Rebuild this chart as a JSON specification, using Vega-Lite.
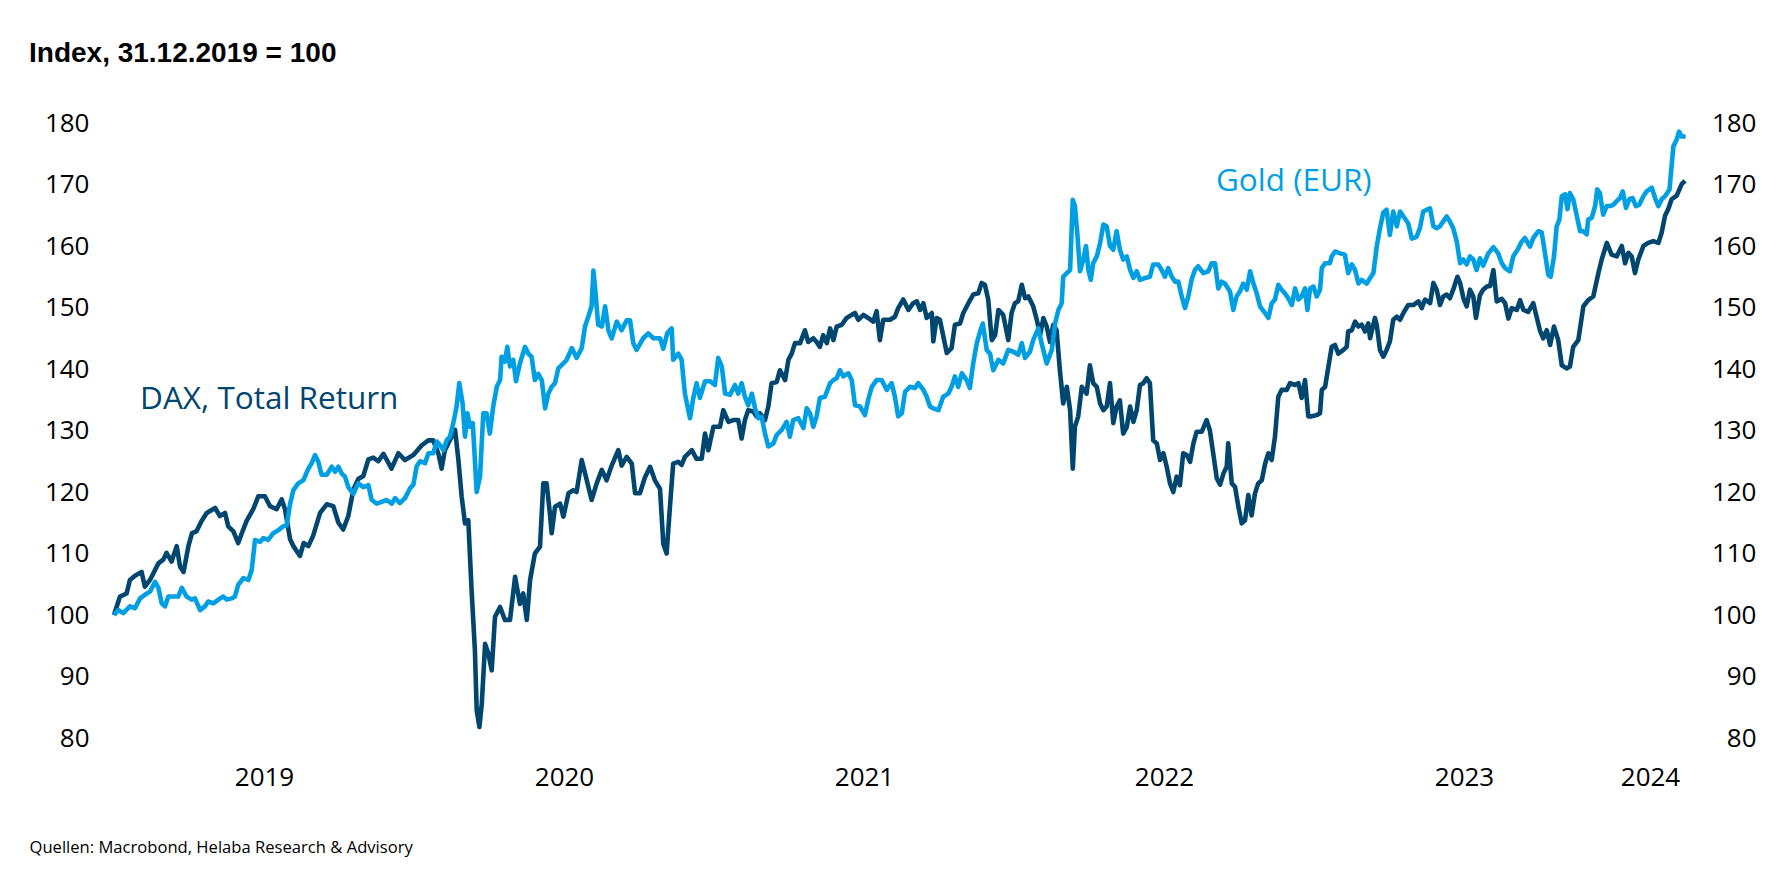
{
"$schema":"https://vega.github.io/schema/vega-lite/v6.json",
"width":1572,"height":615,
"autosize":{"type":"none"},
"padding":{"left":114,"top":123,"right":96,"bottom":131},
"background":"white",
"config":{"view":{"stroke":null},"font":"Open Sans"},
"title":{"text":"Index, 31.12.2019 = 100","anchor":"start","frame":"group","dx":-85,"offset":42,"font":"Liberation Sans","fontWeight":"bold","fontSize":28,"color":"#000000"},
"datasets":{
"dax":[
{"t":2019.000,"v":100},{"t":2019.020,"v":103},{"t":2019.042,"v":103.5},{"t":2019.053,"v":105.7},{"t":2019.070,"v":106.4},{"t":2019.092,"v":107},{"t":2019.103,"v":104.6},{"t":2019.120,"v":105.7},{"t":2019.148,"v":108.4},{"t":2019.164,"v":109},{"t":2019.175,"v":110.1},{"t":2019.192,"v":108.7},{"t":2019.209,"v":111.2},{"t":2019.220,"v":107.9},{"t":2019.232,"v":107},{"t":2019.248,"v":111.2},{"t":2019.260,"v":113.3},{"t":2019.275,"v":113.6},{"t":2019.292,"v":115.3},{"t":2019.309,"v":116.6},{"t":2019.337,"v":117.4},{"t":2019.353,"v":116.1},{"t":2019.370,"v":116.6},{"t":2019.381,"v":114.4},{"t":2019.398,"v":113.6},{"t":2019.414,"v":111.7},{"t":2019.426,"v":113.3},{"t":2019.442,"v":115.3},{"t":2019.464,"v":117.2},{"t":2019.481,"v":119.3},{"t":2019.503,"v":119.3},{"t":2019.520,"v":117.7},{"t":2019.542,"v":117.2},{"t":2019.559,"v":118.8},{"t":2019.570,"v":117.2},{"t":2019.587,"v":112.3},{"t":2019.598,"v":111.2},{"t":2019.620,"v":109.6},{"t":2019.632,"v":111.7},{"t":2019.648,"v":111.2},{"t":2019.664,"v":112.9},{"t":2019.687,"v":116.6},{"t":2019.709,"v":118},{"t":2019.731,"v":117.7},{"t":2019.748,"v":115},{"t":2019.764,"v":113.9},{"t":2019.781,"v":116.1},{"t":2019.798,"v":120.4},{"t":2019.814,"v":122.1},{"t":2019.831,"v":122.6},{"t":2019.848,"v":125.3},{"t":2019.864,"v":125.6},{"t":2019.881,"v":125},{"t":2019.898,"v":126.2},{"t":2019.914,"v":124.8},{"t":2019.925,"v":123.8},{"t":2019.948,"v":126.3},{"t":2019.970,"v":125.2},{"t":2019.998,"v":126},
{"t":2020.026,"v":127.6},{"t":2020.048,"v":128.4},{"t":2020.064,"v":128.4},{"t":2020.081,"v":126.3},{"t":2020.092,"v":123.8},{"t":2020.103,"v":126.8},{"t":2020.114,"v":127.9},{"t":2020.126,"v":129},{"t":2020.137,"v":130.1},{"t":2020.148,"v":125.2},{"t":2020.159,"v":119.2},{"t":2020.170,"v":114.9},{"t":2020.181,"v":115.4},{"t":2020.192,"v":104},{"t":2020.203,"v":94.3},{"t":2020.209,"v":84.5},{"t":2020.218,"v":81.8},{"t":2020.226,"v":85.6},{"t":2020.237,"v":95.3},{"t":2020.248,"v":93.7},{"t":2020.259,"v":91},{"t":2020.270,"v":99.7},{"t":2020.287,"v":101.3},{"t":2020.303,"v":99.2},{"t":2020.320,"v":99.2},{"t":2020.337,"v":106.2},{"t":2020.353,"v":101.8},{"t":2020.364,"v":103.5},{"t":2020.376,"v":99.2},{"t":2020.387,"v":105.7},{"t":2020.403,"v":110},{"t":2020.420,"v":111.1},{"t":2020.431,"v":121.4},{"t":2020.442,"v":121.4},{"t":2020.453,"v":116.5},{"t":2020.459,"v":113.3},{"t":2020.470,"v":117.6},{"t":2020.487,"v":118.1},{"t":2020.498,"v":116},{"t":2020.515,"v":119.8},{"t":2020.531,"v":120.3},{"t":2020.542,"v":120},{"t":2020.559,"v":125.2},{"t":2020.576,"v":121.9},{"t":2020.592,"v":118.7},{"t":2020.609,"v":121.4},{"t":2020.626,"v":123.6},{"t":2020.642,"v":121.9},{"t":2020.659,"v":124.3},{"t":2020.681,"v":126.8},{"t":2020.692,"v":124.3},{"t":2020.709,"v":125.7},{"t":2020.726,"v":124.6},{"t":2020.737,"v":119.8},{"t":2020.753,"v":119.8},{"t":2020.770,"v":122.4},{"t":2020.787,"v":124.1},{"t":2020.803,"v":121.9},{"t":2020.820,"v":120.5},{"t":2020.831,"v":111.6},{"t":2020.842,"v":110},{"t":2020.853,"v":117.5},{"t":2020.864,"v":124.6},{"t":2020.881,"v":124.9},{"t":2020.892,"v":124.4},{"t":2020.903,"v":125.7},{"t":2020.926,"v":126.8},{"t":2020.942,"v":125.4},{"t":2020.959,"v":125.4},{"t":2020.970,"v":129.5},{"t":2020.981,"v":126.8},{"t":2020.998,"v":130.6},
{"t":2021.020,"v":130.6},{"t":2021.031,"v":133.3},{"t":2021.048,"v":131.4},{"t":2021.064,"v":131.7},{"t":2021.081,"v":131.7},{"t":2021.092,"v":128.7},{"t":2021.103,"v":131.7},{"t":2021.114,"v":133.3},{"t":2021.131,"v":133.1},{"t":2021.142,"v":132.3},{"t":2021.153,"v":132.8},{"t":2021.170,"v":131.7},{"t":2021.181,"v":133.9},{"t":2021.192,"v":137.7},{"t":2021.209,"v":137.9},{"t":2021.220,"v":139.8},{"t":2021.237,"v":138.2},{"t":2021.248,"v":141.5},{"t":2021.259,"v":142.5},{"t":2021.270,"v":144.2},{"t":2021.287,"v":144.2},{"t":2021.303,"v":146.3},{"t":2021.314,"v":144.4},{"t":2021.331,"v":145},{"t":2021.342,"v":144.4},{"t":2021.353,"v":143.6},{"t":2021.364,"v":145.5},{"t":2021.376,"v":144.2},{"t":2021.387,"v":146.6},{"t":2021.398,"v":144.7},{"t":2021.409,"v":146.9},{"t":2021.426,"v":147.2},{"t":2021.442,"v":148.3},{"t":2021.459,"v":148.8},{"t":2021.470,"v":149.1},{"t":2021.481,"v":148},{"t":2021.498,"v":148.8},{"t":2021.514,"v":148.3},{"t":2021.531,"v":147.7},{"t":2021.542,"v":149.4},{"t":2021.553,"v":144.7},{"t":2021.564,"v":148},{"t":2021.587,"v":148},{"t":2021.603,"v":148.5},{"t":2021.614,"v":149.9},{"t":2021.631,"v":151.3},{"t":2021.648,"v":149.6},{"t":2021.664,"v":150.7},{"t":2021.676,"v":151},{"t":2021.687,"v":149.6},{"t":2021.698,"v":150.7},{"t":2021.709,"v":148.3},{"t":2021.726,"v":149.1},{"t":2021.731,"v":144.5},{"t":2021.742,"v":148.3},{"t":2021.753,"v":148},{"t":2021.764,"v":145.4},{"t":2021.776,"v":142.6},{"t":2021.792,"v":143.4},{"t":2021.803,"v":147.2},{"t":2021.820,"v":147.4},{"t":2021.831,"v":149.1},{"t":2021.848,"v":150.7},{"t":2021.864,"v":152.1},{"t":2021.881,"v":152.3},{"t":2021.892,"v":154},{"t":2021.903,"v":153.7},{"t":2021.914,"v":151.3},{"t":2021.926,"v":144.7},{"t":2021.937,"v":145.5},{"t":2021.948,"v":149.6},{"t":2021.964,"v":148.8},{"t":2021.981,"v":144.7},{"t":2021.992,"v":149.1},
{"t":2022.003,"v":150.7},{"t":2022.014,"v":151},{"t":2022.026,"v":153.7},{"t":2022.037,"v":151.5},{"t":2022.048,"v":151.8},{"t":2022.064,"v":150.2},{"t":2022.076,"v":148},{"t":2022.087,"v":145.5},{"t":2022.098,"v":148.3},{"t":2022.109,"v":146.9},{"t":2022.120,"v":144.4},{"t":2022.131,"v":147.2},{"t":2022.142,"v":146.3},{"t":2022.153,"v":139.8},{"t":2022.164,"v":134.4},{"t":2022.176,"v":137.1},{"t":2022.187,"v":133.3},{"t":2022.196,"v":123.8},{"t":2022.203,"v":130.6},{"t":2022.214,"v":132.3},{"t":2022.226,"v":137.1},{"t":2022.242,"v":136},{"t":2022.253,"v":140.6},{"t":2022.264,"v":137.7},{"t":2022.276,"v":137.1},{"t":2022.287,"v":134.4},{"t":2022.298,"v":133.3},{"t":2022.309,"v":133.9},{"t":2022.320,"v":137.7},{"t":2022.331,"v":131.2},{"t":2022.342,"v":133.9},{"t":2022.353,"v":134.9},{"t":2022.364,"v":129.5},{"t":2022.376,"v":130.6},{"t":2022.387,"v":133.9},{"t":2022.398,"v":131.4},{"t":2022.409,"v":133.3},{"t":2022.420,"v":137.4},{"t":2022.431,"v":137.7},{"t":2022.442,"v":138.5},{"t":2022.453,"v":137.7},{"t":2022.464,"v":128.4},{"t":2022.476,"v":127.9},{"t":2022.487,"v":125.2},{"t":2022.498,"v":126.3},{"t":2022.509,"v":124.1},{"t":2022.520,"v":121.4},{"t":2022.531,"v":120},{"t":2022.542,"v":122.5},{"t":2022.553,"v":121.1},{"t":2022.564,"v":126.3},{"t":2022.576,"v":126},{"t":2022.587,"v":124.9},{"t":2022.598,"v":127.9},{"t":2022.609,"v":129.8},{"t":2022.626,"v":129.8},{"t":2022.642,"v":131.7},{"t":2022.653,"v":130},{"t":2022.664,"v":126.3},{"t":2022.676,"v":122.2},{"t":2022.687,"v":121.2},{"t":2022.698,"v":123},{"t":2022.709,"v":124.1},{"t":2022.714,"v":127.9},{"t":2022.726,"v":121.4},{"t":2022.737,"v":120.8},{"t":2022.748,"v":117.6},{"t":2022.759,"v":114.9},{"t":2022.770,"v":115.4},{"t":2022.781,"v":119.5},{"t":2022.792,"v":116.2},{"t":2022.803,"v":119.7},{"t":2022.814,"v":121.4},{"t":2022.826,"v":121.9},{"t":2022.837,"v":124.6},{"t":2022.848,"v":126.3},{"t":2022.859,"v":125.2},{"t":2022.870,"v":129},{"t":2022.881,"v":135.5},{"t":2022.892,"v":136.6},{"t":2022.909,"v":136.6},{"t":2022.920,"v":137.7},{"t":2022.937,"v":137.4},{"t":2022.948,"v":137.7},{"t":2022.959,"v":135.3},{"t":2022.970,"v":138.2},{"t":2022.981,"v":132.3},{"t":2022.992,"v":132.3},
{"t":2023.009,"v":132.5},{"t":2023.020,"v":132.8},{"t":2023.026,"v":136.6},{"t":2023.037,"v":137.1},{"t":2023.048,"v":140.4},{"t":2023.059,"v":143.6},{"t":2023.070,"v":143.9},{"t":2023.081,"v":142.5},{"t":2023.098,"v":143.1},{"t":2023.109,"v":143.6},{"t":2023.114,"v":146.1},{"t":2023.126,"v":146.3},{"t":2023.137,"v":147.7},{"t":2023.148,"v":146.9},{"t":2023.159,"v":147.2},{"t":2023.170,"v":146.1},{"t":2023.181,"v":147.4},{"t":2023.187,"v":145},{"t":2023.203,"v":148.3},{"t":2023.209,"v":147.2},{"t":2023.220,"v":143.1},{"t":2023.231,"v":142},{"t":2023.242,"v":143.1},{"t":2023.253,"v":144.5},{"t":2023.264,"v":148},{"t":2023.276,"v":148.5},{"t":2023.287,"v":148},{"t":2023.298,"v":149.1},{"t":2023.314,"v":150.4},{"t":2023.331,"v":150.4},{"t":2023.348,"v":151},{"t":2023.359,"v":149.9},{"t":2023.370,"v":151.3},{"t":2023.387,"v":150.7},{"t":2023.398,"v":154},{"t":2023.409,"v":152.9},{"t":2023.420,"v":150.4},{"t":2023.431,"v":151.8},{"t":2023.442,"v":152.1},{"t":2023.453,"v":151.5},{"t":2023.464,"v":152.9},{"t":2023.478,"v":155},{"t":2023.487,"v":154},{"t":2023.498,"v":151.5},{"t":2023.509,"v":150.2},{"t":2023.520,"v":152.9},{"t":2023.531,"v":151.8},{"t":2023.540,"v":148.3},{"t":2023.553,"v":152},{"t":2023.564,"v":152.9},{"t":2023.576,"v":153.4},{"t":2023.587,"v":153.5},{"t":2023.598,"v":156.1},{"t":2023.609,"v":151},{"t":2023.626,"v":151.4},{"t":2023.637,"v":150.7},{"t":2023.648,"v":148.2},{"t":2023.659,"v":149.9},{"t":2023.676,"v":149.6},{"t":2023.687,"v":151.2},{"t":2023.698,"v":149.6},{"t":2023.714,"v":149.3},{"t":2023.731,"v":150.7},{"t":2023.742,"v":148.5},{"t":2023.753,"v":146.3},{"t":2023.764,"v":145},{"t":2023.776,"v":146.3},{"t":2023.787,"v":143.9},{"t":2023.800,"v":146.9},{"t":2023.814,"v":144.7},{"t":2023.826,"v":140.6},{"t":2023.842,"v":140.1},{"t":2023.853,"v":140.4},{"t":2023.864,"v":143.6},{"t":2023.881,"v":144.7},{"t":2023.898,"v":150.2},{"t":2023.914,"v":151.2},{"t":2023.931,"v":151.8},{"t":2023.948,"v":155.6},{"t":2023.959,"v":157.8},{"t":2023.976,"v":160.5},{"t":2023.992,"v":158.6},
{"t":2024.009,"v":158.3},{"t":2024.026,"v":160},{"t":2024.037,"v":157.2},{"t":2024.048,"v":158.9},{"t":2024.059,"v":158.3},{"t":2024.070,"v":155.6},{"t":2024.081,"v":157.8},{"t":2024.098,"v":160},{"t":2024.114,"v":160.5},{"t":2024.131,"v":160.8},{"t":2024.148,"v":160.5},{"t":2024.159,"v":162.2},{"t":2024.170,"v":164.9},{"t":2024.181,"v":166},{"t":2024.192,"v":167.6},{"t":2024.209,"v":168.2},{"t":2024.226,"v":170.1},{"t":2024.237,"v":170.6}
],
"gold":[
{"t":2019.000,"v":100},{"t":2019.014,"v":100.8},{"t":2019.031,"v":100.3},{"t":2019.053,"v":101.4},{"t":2019.070,"v":101.1},{"t":2019.087,"v":102.7},{"t":2019.103,"v":103.3},{"t":2019.120,"v":103.8},{"t":2019.137,"v":105.4},{"t":2019.148,"v":104.4},{"t":2019.159,"v":101.9},{"t":2019.170,"v":101.4},{"t":2019.181,"v":103},{"t":2019.198,"v":103},{"t":2019.214,"v":103},{"t":2019.226,"v":104.4},{"t":2019.242,"v":103},{"t":2019.259,"v":102.5},{"t":2019.270,"v":102.7},{"t":2019.287,"v":100.8},{"t":2019.303,"v":101.4},{"t":2019.314,"v":102.2},{"t":2019.331,"v":101.9},{"t":2019.348,"v":102.5},{"t":2019.364,"v":103},{"t":2019.376,"v":102.5},{"t":2019.392,"v":102.7},{"t":2019.403,"v":103},{"t":2019.414,"v":104.9},{"t":2019.431,"v":106},{"t":2019.448,"v":105.7},{"t":2019.459,"v":107.3},{"t":2019.470,"v":112.2},{"t":2019.487,"v":111.9},{"t":2019.498,"v":112.5},{"t":2019.514,"v":112.2},{"t":2019.531,"v":113.3},{"t":2019.548,"v":113.8},{"t":2019.564,"v":114.4},{"t":2019.576,"v":114.6},{"t":2019.587,"v":118.1},{"t":2019.598,"v":120.3},{"t":2019.614,"v":121.4},{"t":2019.631,"v":121.9},{"t":2019.648,"v":123.8},{"t":2019.659,"v":124.7},{"t":2019.670,"v":126},{"t":2019.681,"v":124.9},{"t":2019.692,"v":122.8},{"t":2019.709,"v":122.8},{"t":2019.726,"v":124.1},{"t":2019.737,"v":123.3},{"t":2019.748,"v":124.1},{"t":2019.759,"v":123},{"t":2019.770,"v":122.5},{"t":2019.781,"v":120.8},{"t":2019.798,"v":119.7},{"t":2019.814,"v":121.4},{"t":2019.831,"v":120.8},{"t":2019.848,"v":121.1},{"t":2019.859,"v":118.7},{"t":2019.876,"v":118.1},{"t":2019.892,"v":118.4},{"t":2019.909,"v":118.7},{"t":2019.926,"v":118.1},{"t":2019.937,"v":119},{"t":2019.953,"v":118.2},{"t":2019.970,"v":119},{"t":2019.987,"v":120.6},{"t":2019.998,"v":121.2},
{"t":2020.009,"v":124.2},{"t":2020.020,"v":125},{"t":2020.037,"v":124.7},{"t":2020.048,"v":126.3},{"t":2020.064,"v":126.3},{"t":2020.076,"v":128.2},{"t":2020.087,"v":127.6},{"t":2020.098,"v":126.8},{"t":2020.109,"v":128.4},{"t":2020.120,"v":129},{"t":2020.131,"v":131.2},{"t":2020.142,"v":133.9},{"t":2020.151,"v":137.7},{"t":2020.162,"v":134.4},{"t":2020.170,"v":129},{"t":2020.178,"v":132.8},{"t":2020.187,"v":130.6},{"t":2020.196,"v":131.2},{"t":2020.209,"v":120},{"t":2020.220,"v":122.5},{"t":2020.231,"v":132.8},{"t":2020.242,"v":132.8},{"t":2020.253,"v":129.5},{"t":2020.264,"v":133.9},{"t":2020.276,"v":137.1},{"t":2020.287,"v":138.2},{"t":2020.292,"v":142},{"t":2020.303,"v":141.2},{"t":2020.311,"v":143.6},{"t":2020.320,"v":140.4},{"t":2020.331,"v":141.5},{"t":2020.340,"v":138},{"t":2020.353,"v":140.9},{"t":2020.370,"v":143.6},{"t":2020.381,"v":142.5},{"t":2020.392,"v":142},{"t":2020.403,"v":138.2},{"t":2020.414,"v":139.2},{"t":2020.426,"v":138.2},{"t":2020.437,"v":133.6},{"t":2020.448,"v":136},{"t":2020.459,"v":137.1},{"t":2020.470,"v":137.7},{"t":2020.481,"v":140.1},{"t":2020.498,"v":140.9},{"t":2020.509,"v":141.5},{"t":2020.526,"v":143.4},{"t":2020.542,"v":141.8},{"t":2020.559,"v":143.4},{"t":2020.570,"v":146.9},{"t":2020.581,"v":148.5},{"t":2020.592,"v":150.2},{"t":2020.598,"v":156},{"t":2020.603,"v":153.5},{"t":2020.614,"v":147.2},{"t":2020.626,"v":146.9},{"t":2020.637,"v":150.2},{"t":2020.648,"v":146.3},{"t":2020.659,"v":145},{"t":2020.676,"v":147.7},{"t":2020.692,"v":146.3},{"t":2020.709,"v":147.9},{"t":2020.720,"v":147.9},{"t":2020.731,"v":144.2},{"t":2020.742,"v":143.1},{"t":2020.764,"v":145},{"t":2020.781,"v":145.8},{"t":2020.798,"v":145},{"t":2020.820,"v":145},{"t":2020.831,"v":143.3},{"t":2020.844,"v":145.8},{"t":2020.859,"v":146.6},{"t":2020.864,"v":141.5},{"t":2020.881,"v":142.5},{"t":2020.892,"v":141.5},{"t":2020.903,"v":136},{"t":2020.920,"v":132},{"t":2020.931,"v":135.3},{"t":2020.942,"v":137.7},{"t":2020.953,"v":135.3},{"t":2020.970,"v":138},{"t":2020.987,"v":138},
{"t":2021.003,"v":137.4},{"t":2021.014,"v":141.8},{"t":2021.026,"v":140.4},{"t":2021.037,"v":136},{"t":2021.053,"v":135.8},{"t":2021.070,"v":137.4},{"t":2021.081,"v":136},{"t":2021.092,"v":137.7},{"t":2021.103,"v":135.5},{"t":2021.114,"v":134.1},{"t":2021.126,"v":136},{"t":2021.137,"v":133.6},{"t":2021.148,"v":132},{"t":2021.159,"v":132.2},{"t":2021.170,"v":129.5},{"t":2021.181,"v":127.4},{"t":2021.198,"v":127.9},{"t":2021.209,"v":129.3},{"t":2021.226,"v":130.1},{"t":2021.242,"v":131.4},{"t":2021.253,"v":129},{"t":2021.264,"v":131.7},{"t":2021.281,"v":132},{"t":2021.298,"v":130.4},{"t":2021.309,"v":133.6},{"t":2021.320,"v":132.8},{"t":2021.331,"v":130.6},{"t":2021.342,"v":132.3},{"t":2021.353,"v":135.3},{"t":2021.370,"v":135.5},{"t":2021.387,"v":137.7},{"t":2021.398,"v":138.2},{"t":2021.409,"v":138.5},{"t":2021.420,"v":139.8},{"t":2021.431,"v":138.8},{"t":2021.448,"v":139.3},{"t":2021.459,"v":138.2},{"t":2021.470,"v":134.1},{"t":2021.487,"v":133.9},{"t":2021.503,"v":132.5},{"t":2021.514,"v":135},{"t":2021.526,"v":137.1},{"t":2021.542,"v":138.2},{"t":2021.559,"v":138.2},{"t":2021.576,"v":136.6},{"t":2021.592,"v":137.7},{"t":2021.603,"v":135.5},{"t":2021.614,"v":132.3},{"t":2021.626,"v":132.8},{"t":2021.637,"v":136.3},{"t":2021.653,"v":137.1},{"t":2021.670,"v":136.9},{"t":2021.681,"v":137.7},{"t":2021.698,"v":136.6},{"t":2021.709,"v":135.5},{"t":2021.720,"v":133.9},{"t":2021.731,"v":133.6},{"t":2021.748,"v":133.3},{"t":2021.764,"v":135.5},{"t":2021.781,"v":136},{"t":2021.792,"v":137.1},{"t":2021.803,"v":138.8},{"t":2021.814,"v":137.1},{"t":2021.826,"v":139.3},{"t":2021.842,"v":138.2},{"t":2021.853,"v":136.9},{"t":2021.864,"v":140.9},{"t":2021.876,"v":144.2},{"t":2021.887,"v":146.1},{"t":2021.896,"v":147.4},{"t":2021.909,"v":143.1},{"t":2021.920,"v":142.5},{"t":2021.931,"v":139.8},{"t":2021.948,"v":141.5},{"t":2021.964,"v":140.9},{"t":2021.981,"v":143.1},{"t":2021.998,"v":142.8},
{"t":2022.014,"v":142.3},{"t":2022.026,"v":144.2},{"t":2022.037,"v":141.8},{"t":2022.053,"v":142.8},{"t":2022.064,"v":144.7},{"t":2022.081,"v":146.6},{"t":2022.092,"v":144.2},{"t":2022.109,"v":140.9},{"t":2022.126,"v":143.1},{"t":2022.137,"v":147.4},{"t":2022.148,"v":149.6},{"t":2022.159,"v":150.7},{"t":2022.164,"v":155},{"t":2022.176,"v":155.6},{"t":2022.187,"v":156.1},{"t":2022.196,"v":167.5},{"t":2022.203,"v":166.5},{"t":2022.211,"v":162.1},{"t":2022.220,"v":155.9},{"t":2022.231,"v":157.8},{"t":2022.240,"v":160},{"t":2022.248,"v":156.1},{"t":2022.256,"v":154.5},{"t":2022.264,"v":157.2},{"t":2022.276,"v":158.3},{"t":2022.287,"v":160.5},{"t":2022.298,"v":163.5},{"t":2022.309,"v":163.2},{"t":2022.320,"v":160},{"t":2022.331,"v":159.4},{"t":2022.342,"v":162.4},{"t":2022.353,"v":159.4},{"t":2022.364,"v":157.8},{"t":2022.376,"v":158.3},{"t":2022.387,"v":156.1},{"t":2022.398,"v":154.8},{"t":2022.409,"v":155.9},{"t":2022.420,"v":154.5},{"t":2022.437,"v":154.8},{"t":2022.453,"v":155},{"t":2022.464,"v":157},{"t":2022.481,"v":157},{"t":2022.492,"v":156.1},{"t":2022.503,"v":155},{"t":2022.514,"v":156.4},{"t":2022.526,"v":155},{"t":2022.537,"v":154.2},{"t":2022.548,"v":154.2},{"t":2022.559,"v":151.8},{"t":2022.570,"v":149.9},{"t":2022.581,"v":151.8},{"t":2022.592,"v":154.5},{"t":2022.603,"v":156.1},{"t":2022.614,"v":156.7},{"t":2022.631,"v":155.6},{"t":2022.648,"v":155.9},{"t":2022.659,"v":157.2},{"t":2022.670,"v":157.2},{"t":2022.681,"v":153.1},{"t":2022.692,"v":154.2},{"t":2022.703,"v":153.9},{"t":2022.720,"v":152.6},{"t":2022.731,"v":149.6},{"t":2022.742,"v":151.8},{"t":2022.753,"v":152.6},{"t":2022.764,"v":153.9},{"t":2022.776,"v":152.9},{"t":2022.787,"v":155.9},{"t":2022.798,"v":153.9},{"t":2022.809,"v":152.3},{"t":2022.820,"v":150.2},{"t":2022.837,"v":149.1},{"t":2022.848,"v":148.3},{"t":2022.859,"v":150.7},{"t":2022.870,"v":151.3},{"t":2022.881,"v":153.7},{"t":2022.892,"v":152.9},{"t":2022.903,"v":152.3},{"t":2022.914,"v":151.5},{"t":2022.926,"v":150.4},{"t":2022.937,"v":153.1},{"t":2022.948,"v":151.3},{"t":2022.959,"v":151.8},{"t":2022.970,"v":153.1},{"t":2022.978,"v":149.6},{"t":2022.987,"v":153.1},{"t":2022.998,"v":153.4},
{"t":2023.009,"v":151.8},{"t":2023.020,"v":152.9},{"t":2023.026,"v":156.4},{"t":2023.037,"v":157.2},{"t":2023.053,"v":157.2},{"t":2023.059,"v":158.3},{"t":2023.070,"v":159.1},{"t":2023.087,"v":158.8},{"t":2023.103,"v":158.6},{"t":2023.114,"v":155.6},{"t":2023.126,"v":157},{"t":2023.137,"v":156.1},{"t":2023.148,"v":153.9},{"t":2023.159,"v":154.5},{"t":2023.176,"v":153.9},{"t":2023.187,"v":154.8},{"t":2023.198,"v":155.6},{"t":2023.209,"v":159.9},{"t":2023.220,"v":162.9},{"t":2023.231,"v":165.4},{"t":2023.242,"v":165.9},{"t":2023.253,"v":161.8},{"t":2023.264,"v":165.6},{"t":2023.276,"v":163.2},{"t":2023.287,"v":165.6},{"t":2023.298,"v":164.8},{"t":2023.314,"v":163.7},{"t":2023.326,"v":161.2},{"t":2023.342,"v":161.5},{"t":2023.353,"v":162.9},{"t":2023.364,"v":165.6},{"t":2023.376,"v":165.9},{"t":2023.387,"v":166.1},{"t":2023.398,"v":163.2},{"t":2023.409,"v":162.9},{"t":2023.420,"v":163.2},{"t":2023.431,"v":164},{"t":2023.442,"v":164.8},{"t":2023.453,"v":164},{"t":2023.464,"v":162.9},{"t":2023.476,"v":160.7},{"t":2023.487,"v":157.2},{"t":2023.498,"v":157.8},{"t":2023.509,"v":157},{"t":2023.520,"v":158.3},{"t":2023.531,"v":157.8},{"t":2023.542,"v":156.1},{"t":2023.553,"v":158},{"t":2023.564,"v":156.8},{"t":2023.581,"v":158.8},{"t":2023.598,"v":159.8},{"t":2023.614,"v":158.8},{"t":2023.626,"v":157.2},{"t":2023.637,"v":156.4},{"t":2023.653,"v":155.9},{"t":2023.664,"v":158.3},{"t":2023.681,"v":159.6},{"t":2023.692,"v":160.7},{"t":2023.703,"v":161.3},{"t":2023.720,"v":159.9},{"t":2023.731,"v":161.3},{"t":2023.748,"v":162.4},{"t":2023.759,"v":162.2},{"t":2023.770,"v":158.8},{"t":2023.781,"v":155.3},{"t":2023.789,"v":155},{"t":2023.800,"v":158.3},{"t":2023.809,"v":163.2},{"t":2023.818,"v":164.3},{"t":2023.826,"v":168.1},{"t":2023.837,"v":168.4},{"t":2023.845,"v":166},{"t":2023.853,"v":168.6},{"t":2023.864,"v":167.6},{"t":2023.876,"v":164.9},{"t":2023.887,"v":162.4},{"t":2023.898,"v":162.4},{"t":2023.909,"v":161.9},{"t":2023.914,"v":164.3},{"t":2023.926,"v":164.6},{"t":2023.937,"v":166.5},{"t":2023.944,"v":169.2},{"t":2023.953,"v":168.6},{"t":2023.964,"v":165.1},{"t":2023.976,"v":166.5},{"t":2023.987,"v":166.5},{"t":2023.998,"v":166.7},
{"t":2024.009,"v":167.3},{"t":2024.020,"v":167.8},{"t":2024.029,"v":168.9},{"t":2024.040,"v":166.2},{"t":2024.051,"v":167.6},{"t":2024.062,"v":167.8},{"t":2024.073,"v":166.5},{"t":2024.084,"v":166.7},{"t":2024.098,"v":168.1},{"t":2024.109,"v":168.9},{"t":2024.126,"v":169.5},{"t":2024.137,"v":167.8},{"t":2024.148,"v":166.5},{"t":2024.159,"v":167.6},{"t":2024.170,"v":168.1},{"t":2024.185,"v":169.2},{"t":2024.192,"v":173},{"t":2024.198,"v":176.2},{"t":2024.209,"v":177.3},{"t":2024.217,"v":178.6},{"t":2024.226,"v":177.8},{"t":2024.239,"v":177.8}
],
"labels":[
{"t":2019.087,"v":135,"label":"DAX, Total Return"},
{"t":2022.673,"v":170.4,"label":"Gold (EUR)"}
]
},
"layer":[
{"data":{"name":"dax"},
 "mark":{"type":"line","color":"#00466F","strokeWidth":4.6,"strokeJoin":"round"},
 "encoding":{
  "x":{"field":"t","type":"quantitative","scale":{"domain":[2019,2024.24],"nice":false,"zero":false},
   "axis":{"values":[2019.5,2020.5,2021.5,2022.5,2023.5,2024.12],"labelExpr":"floor(datum.value)","domain":false,"ticks":false,"grid":false,"labelFont":"Open Sans","labelFontSize":26,"labelColor":"#000000","labelPadding":26,"labelFlush":false,"labelOverlap":false,
    "title":"Quellen: Macrobond, Helaba Research & Advisory","titleFont":"Open Sans","titleFontSize":16.6,"titleFontWeight":"normal","titleColor":"#000000","titleAnchor":"start","titleAlign":"left","titleBaseline":"alphabetic","titleX":-85,"titleY":114}},
  "y":{"field":"v","type":"quantitative","scale":{"domain":[80,180],"nice":false,"zero":false},
   "axis":{"orient":"left","values":[80,90,100,110,120,130,140,150,160,170,180],"domain":false,"ticks":false,"grid":false,"labelFont":"Open Sans","labelFontSize":26,"labelColor":"#000000","labelPadding":25,"title":null}}
 }},
{"data":{"name":"gold"},
 "mark":{"type":"line","color":"#009FE3","strokeWidth":4.6,"strokeJoin":"round"},
 "encoding":{
  "x":{"field":"t","type":"quantitative"},
  "y":{"field":"v","type":"quantitative",
   "axis":{"orient":"right","values":[80,90,100,110,120,130,140,150,160,170,180],"domain":false,"ticks":false,"grid":false,"labelFont":"Open Sans","labelFontSize":26,"labelColor":"#000000","labelAlign":"right","labelPadding":70,"title":null}}
 }},
{"data":{"name":"labels"},
 "mark":{"type":"text","align":"left","baseline":"middle","font":"Open Sans","fontSize":31.5},
 "encoding":{
  "x":{"field":"t","type":"quantitative"},
  "y":{"field":"v","type":"quantitative","axis":null},
  "text":{"field":"label"},
  "color":{"field":"label","type":"nominal","scale":{"domain":["DAX, Total Return","Gold (EUR)"],"range":["#00466F","#009FE3"]},"legend":null}
 }}
],
"resolve":{"axis":{"y":"independent"}}
}
